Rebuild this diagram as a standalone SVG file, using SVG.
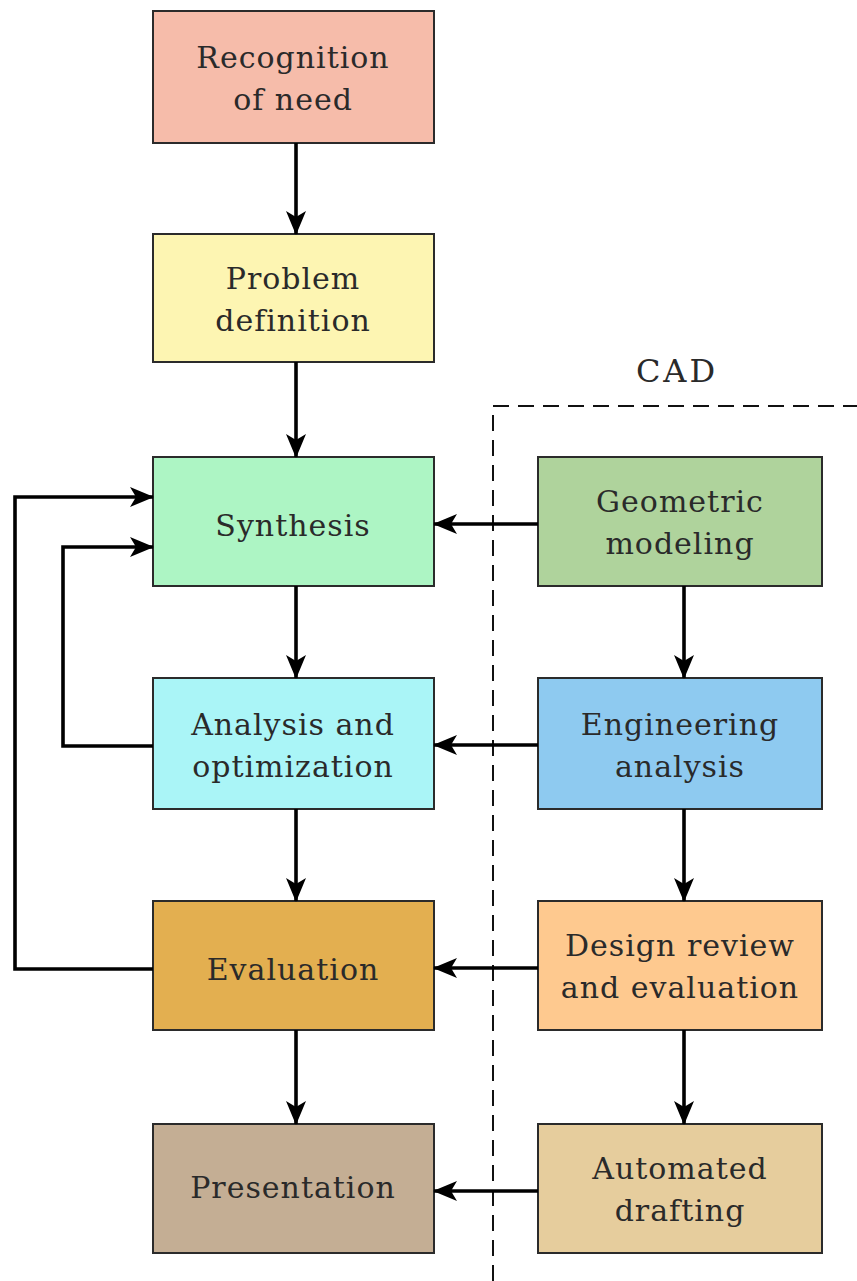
<svg xmlns="http://www.w3.org/2000/svg" width="857" height="1281" viewBox="0 0 857 1281">
  <style>
    .box { stroke: #2b2b2b; stroke-width: 2; }
    .lbl { font-family: "DejaVu Serif", "Liberation Serif", serif; font-size: 30px; letter-spacing: 1px; fill: #2a2a2a; text-anchor: middle; }
    .wire { fill: none; stroke: #000; stroke-width: 3.6; }
    .cad { fill: none; stroke: #111; stroke-width: 2; stroke-dasharray: 16 9; }
  </style>
  <defs>
    <marker id="head" viewBox="0 0 24 22" refX="23" refY="11" markerWidth="24" markerHeight="22" markerUnits="userSpaceOnUse" orient="auto">
      <path d="M0,1 L24,11 L0,21 L6,11 Z" fill="#000"/>
    </marker>
  </defs>

  <rect width="857" height="1281" fill="#fff"/>

  <!-- CAD boundary -->
  <g id="cad-region">
    <path class="cad" d="M493,1281 V406 H857"/>
    <text class="lbl" x="677" y="382" style="font-size:32px;letter-spacing:3px">CAD</text>
  </g>

  <!-- design process column -->
  <g id="recognition">
    <rect class="box" x="153" y="11" width="281" height="132" fill="#F6BCAA"/>
    <text class="lbl" x="293" y="68">Recognition</text>
    <text class="lbl" x="293" y="110">of need</text>
  </g>
  <g id="problem">
    <rect class="box" x="153" y="234" width="281" height="128" fill="#FDF5B2"/>
    <text class="lbl" x="293" y="289">Problem</text>
    <text class="lbl" x="293" y="331">definition</text>
  </g>
  <g id="synthesis">
    <rect class="box" x="153" y="457" width="281" height="129" fill="#ADF5C4"/>
    <text class="lbl" x="293" y="536">Synthesis</text>
  </g>
  <g id="analysis">
    <rect class="box" x="153" y="678" width="281" height="131" fill="#AAF5F7"/>
    <text class="lbl" x="293" y="735">Analysis and</text>
    <text class="lbl" x="293" y="777">optimization</text>
  </g>
  <g id="evaluation">
    <rect class="box" x="153" y="901" width="281" height="129" fill="#E3AF50"/>
    <text class="lbl" x="293" y="980">Evaluation</text>
  </g>
  <g id="presentation">
    <rect class="box" x="153" y="1124" width="281" height="129" fill="#C4AE94"/>
    <text class="lbl" x="293" y="1198">Presentation</text>
  </g>

  <!-- CAD column -->
  <g id="geometric">
    <rect class="box" x="538" y="457" width="284" height="129" fill="#AFD39C"/>
    <text class="lbl" x="680" y="512">Geometric</text>
    <text class="lbl" x="680" y="554">modeling</text>
  </g>
  <g id="engineering">
    <rect class="box" x="538" y="678" width="284" height="131" fill="#8ECAF0"/>
    <text class="lbl" x="680" y="735">Engineering</text>
    <text class="lbl" x="680" y="777">analysis</text>
  </g>
  <g id="review">
    <rect class="box" x="538" y="901" width="284" height="129" fill="#FEC98F"/>
    <text class="lbl" x="680" y="956">Design review</text>
    <text class="lbl" x="680" y="998">and evaluation</text>
  </g>
  <g id="drafting">
    <rect class="box" x="538" y="1124" width="284" height="129" fill="#E6CD9D"/>
    <text class="lbl" x="680" y="1179">Automated</text>
    <text class="lbl" x="680" y="1221">drafting</text>
  </g>

  <!-- connectors -->
  <g id="connectors">
    <line class="wire" x1="296" y1="143" x2="296" y2="234" marker-end="url(#head)"/>
    <line class="wire" x1="296" y1="362" x2="296" y2="457" marker-end="url(#head)"/>
    <line class="wire" x1="296" y1="586" x2="296" y2="678" marker-end="url(#head)"/>
    <line class="wire" x1="296" y1="809" x2="296" y2="901" marker-end="url(#head)"/>
    <line class="wire" x1="296" y1="1030" x2="296" y2="1124" marker-end="url(#head)"/>

    <line class="wire" x1="684" y1="586" x2="684" y2="678" marker-end="url(#head)"/>
    <line class="wire" x1="684" y1="809" x2="684" y2="901" marker-end="url(#head)"/>
    <line class="wire" x1="684" y1="1030" x2="684" y2="1124" marker-end="url(#head)"/>

    <line class="wire" x1="538" y1="524" x2="434" y2="524" marker-end="url(#head)"/>
    <line class="wire" x1="538" y1="745" x2="434" y2="745" marker-end="url(#head)"/>
    <line class="wire" x1="538" y1="968" x2="434" y2="968" marker-end="url(#head)"/>
    <line class="wire" x1="538" y1="1191" x2="434" y2="1191" marker-end="url(#head)"/>

    <polyline class="wire" points="153,969 15,969 15,497 153,497" marker-end="url(#head)"/>
    <polyline class="wire" points="153,746 63,746 63,547 153,547" marker-end="url(#head)"/>
  </g>
</svg>
